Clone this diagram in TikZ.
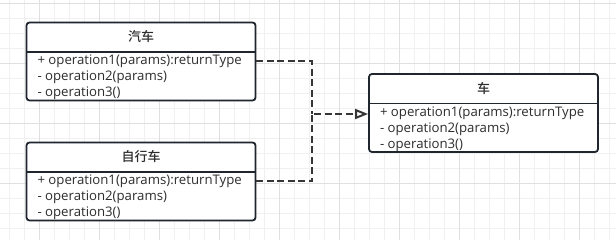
\documentclass[tikz,border=0pt]{standalone}
\usepackage{fontspec}
\setmainfont{Open Sans}
\newfontfamily\cjk{Noto Sans CJK SC}[BoldFont={Noto Sans CJK SC Medium}]
\usetikzlibrary{arrows.meta, positioning}
\definecolor{umlline}{RGB}{31,38,45}
\definecolor{umltext}{RGB}{45,45,45}
\definecolor{dashgray}{RGB}{54,54,54}
\definecolor{gridminor}{RGB}{240,240,240}
\definecolor{gridmajor}{RGB}{224,224,224}
\tikzset{
  classbox/.style={rectangle, draw=umlline, fill=white, line width=1.8pt,
    rounded corners=3pt, minimum width=229pt, minimum height=78pt},
  classtitle/.style={rectangle, minimum width=229pt, minimum height=30pt,
    inner sep=0pt, font=\cjk\fontsize{13}{15}\selectfont\bfseries, text=umltext},
  classrule/.style={line width=1.8pt, color=umlline},
  op/.style={anchor=west, inner sep=0pt, text=umltext,
    font=\fontsize{13.2}{15}\selectfont},
  dashline/.style={line width=2pt, color=dashgray, dash pattern=on 7pt off 3.5pt},
  gridline/.style={line width=0.8pt, color=gridminor}
}

\begin{document}
\begin{tikzpicture}[x=1pt, y=-1pt]
  \useasboundingbox (0,0) rectangle (616,240);
  \fill[white] (0,0) rectangle (616,240);

  % background grid
  \foreach \gx in {9.3,24.3,...,616} \draw[gridline] (\gx,0) -- (\gx,240);
  \foreach \gy in {3.3,18.3,...,240} \draw[gridline] (0,\gy) -- (616,\gy);
  \foreach \gx in {39.3,99.3,...,616} \draw[gridline, color=gridmajor] (\gx,0) -- (\gx,240);
  \foreach \gy in {3.3,63.3,...,240} \draw[gridline, color=gridmajor] (0,\gy) -- (616,\gy);

  % class qiche
  \node[classbox] (qiche) at (141,61.5) {};
  \node[classtitle, below=0pt of qiche.north] (qiche-t) {汽车};
  \draw[classrule] (qiche-t.south west) -- (qiche-t.south east);
  \node[op] (qiche-o1) at ([xshift=11pt, yshift=-9.5pt]qiche-t.south west) {+ operation1(params):returnType};
  \node[op] (qiche-o2) at ([yshift=-16pt]qiche-o1.west) {- operation2(params)};
  \node[op] (qiche-o3) at ([yshift=-16pt]qiche-o2.west) {- operation3()};

  % class zixingche
  \node[classbox] (zxc) at (141,181.5) {};
  \node[classtitle, below=0pt of zxc.north] (zxc-t) {自行车};
  \draw[classrule] (zxc-t.south west) -- (zxc-t.south east);
  \node[op] (zxc-o1) at ([xshift=11pt, yshift=-9.5pt]zxc-t.south west) {+ operation1(params):returnType};
  \node[op] (zxc-o2) at ([yshift=-16pt]zxc-o1.west) {- operation2(params)};
  \node[op] (zxc-o3) at ([yshift=-16pt]zxc-o2.west) {- operation3()};

  % class che
  \node[classbox] (che) at (483.5,113) {};
  \node[classtitle, below=0pt of che.north] (che-t) {车};
  \draw[classrule] (che-t.south west) -- (che-t.south east);
  \node[op] (che-o1) at ([xshift=11pt, yshift=-9.5pt]che-t.south west) {+ operation1(params):returnType};
  \node[op] (che-o2) at ([yshift=-16pt]che-o1.west) {- operation2(params)};
  \node[op] (che-o3) at ([yshift=-16pt]che-o2.west) {- operation3()};

  % realization edges
  \coordinate (merge) at (312,114);
  \draw[dashline] (qiche-o1 -| qiche.east) -| (merge);
  \draw[dashline] (zxc-o1 -| zxc.east) -| (merge);
  \draw[dashline, -{Triangle[open, length=13pt, width=10pt]}] ([xshift=2pt]merge) -- (merge -| che.west);
\end{tikzpicture}
\end{document}
